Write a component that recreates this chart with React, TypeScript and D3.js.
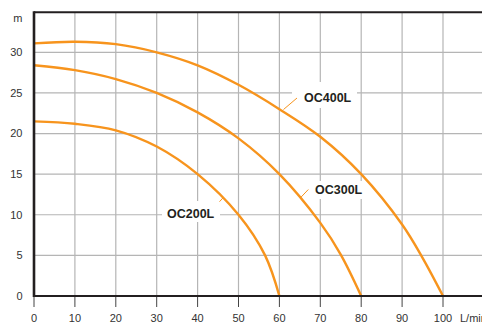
import React from "react";
import * as d3 from "d3";

const flowTicks = [0, 10, 20, 30, 40, 50, 60, 70, 80, 90, 100];
const headTicks = [0, 5, 10, 15, 20, 25, 30];
const seriesNames = ["OC400L", "OC300L", "OC200L"];
const oc400Q = [0, 10, 20, 30, 40, 50, 60, 70, 80, 90, 95, 100];
const oc400H = [31.1, 31.3, 31.0, 30.0, 28.4, 26.0, 23.0, 19.6, 15.0, 8.8, 4.7, 0];
const oc300Q = [0, 10, 20, 30, 40, 50, 60, 70, 75, 80];
const oc300H = [28.4, 27.8, 26.7, 25.0, 22.6, 19.4, 15.0, 9.0, 5.1, 0];
const oc200Q = [0, 10, 20, 30, 40, 50, 56.5, 60];
const oc200H = [21.5, 21.2, 20.4, 18.4, 15.0, 10.0, 5.0, 0];

const W = 482;
const H = 323;
const ORANGE = "#f7941d";
const FONT = "'Liberation Sans', Arial, Helvetica, sans-serif";

// label layout (pixel positions of text, box and leader)
const labelLayout = [
  { tx: 304, ty: 97, box: [292, 82, 65, 26], lead: [283.5, 109.5, 297, 98] },
  { tx: 315, ty: 189.5, box: [309, 181, 57, 18], lead: [300.7, 197.5, 308.3, 189.5] },
  { tx: 167, ty: 213.5, box: [162, 201, 58, 21], lead: [219.5, 201.7, 223, 197.8] },
];

export default function App() {
  const x = d3.scaleLinear().domain([0, 100]).range([34, 443]);
  const y = d3.scaleLinear().domain([0, 30]).range([296, 52.3]);
  const yTop = 12.3;
  const xRight = W;

  const series = [
    { name: seriesNames[0], q: oc400Q, h: oc400H },
    { name: seriesNames[1], q: oc300Q, h: oc300H },
    { name: seriesNames[2], q: oc200Q, h: oc200H },
  ];

  const line = d3
    .line<[number, number]>()
    .x((d) => x(d[0]))
    .y((d) => y(d[1]))
    .curve(d3.curveCatmullRom.alpha(0.5));

  return (
    <svg
      width={W}
      height={H}
      style={{ position: "absolute", left: 0, top: 0, background: "#fff" }}
      fontFamily={FONT}
    >
      <rect x={0} y={0} width={W} height={H} fill="#fff" />
      {/* grid */}
      {flowTicks
        .filter((t) => t > 0)
        .map((t) => (
          <line key={"gx" + t} x1={x(t)} x2={x(t)} y1={yTop} y2={y(0)} stroke="#b5b5b5" strokeWidth={1.2} />
        ))}
      {headTicks
        .filter((t) => t > 0)
        .map((t) => (
          <line key={"gy" + t} x1={x(0)} x2={xRight} y1={y(t)} y2={y(t)} stroke="#b5b5b5" strokeWidth={1.2} />
        ))}
      {/* label boxes */}
      {labelLayout.map((l, i) => (
        <rect key={"b" + i} x={l.box[0]} y={l.box[1]} width={l.box[2]} height={l.box[3]} fill="#fff" />
      ))}
      {/* curves */}
      {series.map((s) => (
        <path
          key={s.name}
          d={line(s.q.map((q, i) => [q, s.h[i]] as [number, number])) || ""}
          fill="none"
          stroke={ORANGE}
          strokeWidth={2.4}
        />
      ))}
      {/* leaders and labels */}
      {labelLayout.map((l, i) => (
        <g key={"l" + i}>
          <line x1={l.lead[0]} y1={l.lead[1]} x2={l.lead[2]} y2={l.lead[3]} stroke={ORANGE} strokeWidth={1} />
          <text x={l.tx} y={l.ty} dy="0.36em" fontSize={12.5} fontWeight="bold" fill="#231f20">
            {seriesNames[i]}
          </text>
        </g>
      ))}
      {/* frame */}
      <line x1={x(0)} x2={xRight} y1={yTop} y2={yTop} stroke="#231f20" strokeWidth={2} />
      <line x1={x(0)} x2={x(0)} y1={yTop - 1} y2={y(0) + 1} stroke="#231f20" strokeWidth={2.6} />
      <line x1={x(0) - 1} x2={xRight} y1={y(0)} y2={y(0)} stroke="#231f20" strokeWidth={2.2} />
      {/* x ticks */}
      {flowTicks.map((t) => (
        <g key={"xt" + t}>
          <line x1={x(t)} x2={x(t)} y1={y(0) + 1} y2={307} stroke="#444" strokeWidth={1} />
          <text x={x(t)} y={318.5} dy="0.36em" textAnchor="middle" fontSize={11} fill="#333">
            {t}
          </text>
        </g>
      ))}
      <text x={460} y={318.5} dy="0.36em" fontSize={11} fill="#333">
        L/min
      </text>
      {/* y ticks */}
      {headTicks.map((t) => (
        <text key={"yt" + t} x={22.5} y={y(t)} dy="0.36em" textAnchor="end" fontSize={11} fill="#333">
          {t}
        </text>
      ))}
      <text x={22.5} y={18} dy="0.36em" textAnchor="end" fontSize={11} fill="#333">
        m
      </text>
    </svg>
  );
}
